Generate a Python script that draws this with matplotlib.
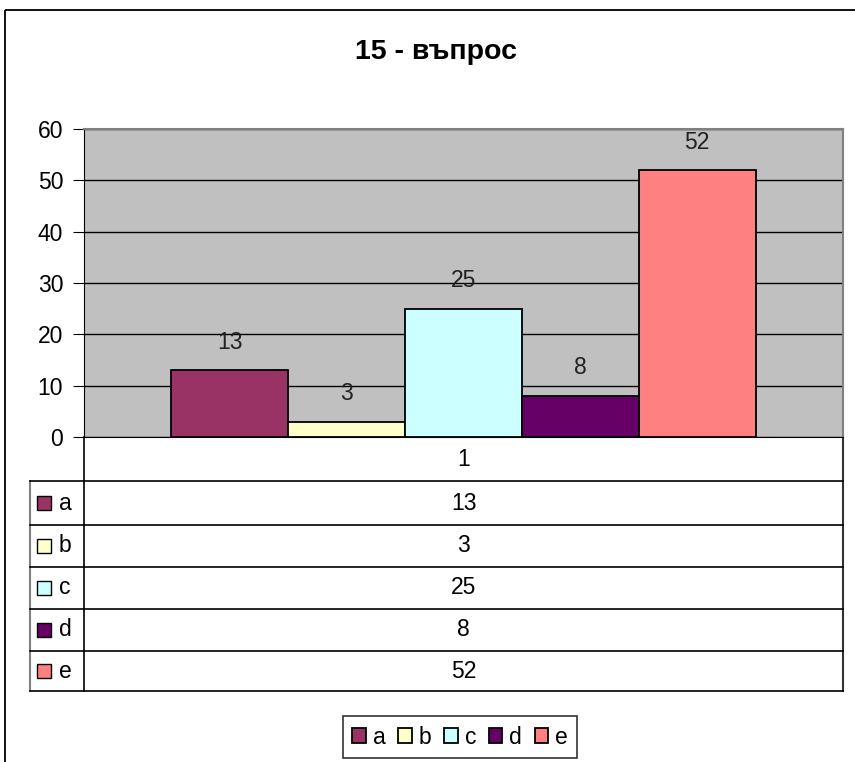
import matplotlib
matplotlib.use("Agg")
import matplotlib.pyplot as plt
from matplotlib.patches import Rectangle
from matplotlib.lines import Line2D
import numpy as np

plt.rcParams['font.family'] = ['Liberation Sans', 'DejaVu Sans']

# data
title = "15 - въпрос"
series_names = ["a", "b", "c", "d", "e"]
values = [13, 3, 25, 8, 52]
category_labels = ["1"]
colors = ["#993366", "#FFFFCC", "#CCFFFF", "#660066", "#FF8080"]

FS = 16.5
W, H = 855, 762
fig = plt.figure(figsize=(W / 100, H / 100), dpi=100)

# helper axes in pixel coords for the frame, title and data table
pix = fig.add_axes([0, 0, 1, 1])
pix.set_xlim(0, W)
pix.set_ylim(H, 0)
pix.axis("off")

# outer chart border (runs off the bottom / right of the picture)
pix.add_patch(Rectangle((5, 10), 870, 800, fill=False, edgecolor="black", lw=1.3))
pix.text(436, 52, title, ha="center", va="center", fontsize=20.5, fontweight="bold")

# plot area
left, right, top, zero = 84, 843, 129, 437
ax = fig.add_axes([left / W, (H - zero) / H, (right - left) / W, (zero - top) / H])
ax.set_facecolor("#C0C0C0")
ax.set_ylim(0, 60)
ax.set_xlim(-0.5, 0.5)
ax.set_yticks(np.arange(0, 61, 10))
ax.yaxis.grid(True, color="black", lw=1)
ax.set_axisbelow(True)
ax.set_xticks([])
ax.tick_params(axis="y", length=8, labelsize=FS, pad=7)
for s in ["top", "right"]:
    ax.spines[s].set_color("#808080")
    ax.spines[s].set_linewidth(1.5)
ax.spines["left"].set_color("black")
ax.spines["bottom"].set_color("black")

bw = 0.77 / len(values)
handles = []
for i, (name, v, c) in enumerate(zip(series_names, values, colors)):
    x = (i - (len(values) - 1) / 2) * bw
    b = ax.bar(x, v, width=bw, color=c, edgecolor="black", lw=1.3, label=name, zorder=3)
    handles.append(b)
    ax.annotate(str(v), (x, v), xytext=(0, 28), textcoords="offset pixels",
                ha="center", va="center", fontsize=FS, color="#222222")

# data table below the plot
row_h = [44, 44, 42, 42, 42, 40]
ys = np.concatenate([[zero], zero + np.cumsum(row_h)])
tab_left = 30
kw = dict(color="black", lw=1.2)
pix.add_line(Line2D([left, left], [zero, ys[-1]], **kw))
pix.add_line(Line2D([right, right], [zero, ys[-1]], color="#333333", lw=1.5))
pix.add_line(Line2D([tab_left, tab_left], [ys[1], ys[-1]], color="#808080", lw=1.5))
for y in ys[1:]:
    pix.add_line(Line2D([tab_left, right], [y, y], **kw))
mid_x = (left + right) / 2
pix.text(mid_x, (ys[0] + ys[1]) / 2, category_labels[0], ha="center", va="center", fontsize=FS)
for i, (name, v, c) in enumerate(zip(series_names, values, colors)):
    yc = (ys[i + 1] + ys[i + 2]) / 2
    pix.add_patch(Rectangle((37, yc - 7), 14, 14, facecolor=c, edgecolor="black", lw=1))
    pix.text(59, yc, name, ha="left", va="center", fontsize=FS)
    pix.text(mid_x, yc, str(v), ha="center", va="center", fontsize=FS)

# legend at the bottom
leg = fig.legend(handles=handles, labels=series_names, ncol=5,
                 loc="center", bbox_to_anchor=(460 / W, 1 - 737 / H),
                 fontsize=FS, frameon=True, fancybox=False, edgecolor="black",
                 handlelength=0.6, handleheight=0.6, handletextpad=0.3,
                 columnspacing=0.55, borderpad=0.4, borderaxespad=0)
leg.get_frame().set_linewidth(1.2)

fig.savefig("out.png", dpi=100)
